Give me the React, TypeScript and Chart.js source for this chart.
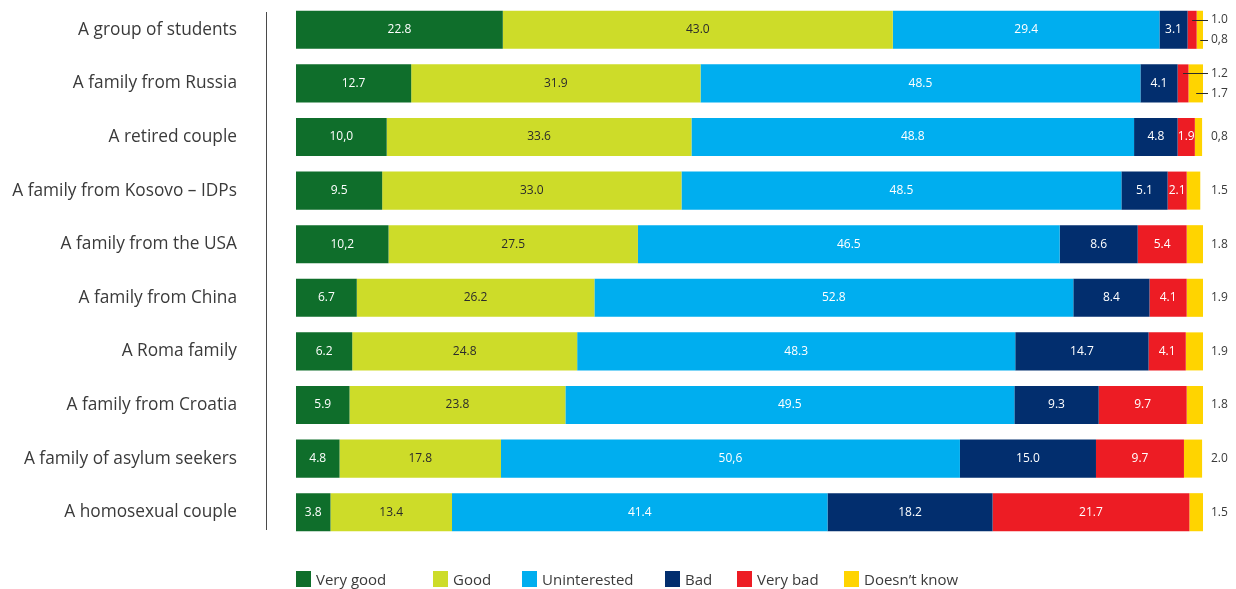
import React, { useEffect, useRef } from "react";
import { Chart, registerables } from "chart.js";

Chart.register(...registerables);

const categories = [
  "A group of students",
  "A family from Russia",
  "A retired couple",
  "A family from Kosovo – IDPs",
  "A family from the USA",
  "A family from China",
  "A Roma family",
  "A family from Croatia",
  "A family of asylum seekers",
  "A homosexual couple",
];

// values as printed in the reference (some use a decimal comma)
const veryGood = ["22.8", "12.7", "10,0", "9.5", "10,2", "6.7", "6.2", "5.9", "4.8", "3.8"];
const good = ["43.0", "31.9", "33.6", "33.0", "27.5", "26.2", "24.8", "23.8", "17.8", "13.4"];
const uninterested = ["29.4", "48.5", "48.8", "48.5", "46.5", "52.8", "48.3", "49.5", "50,6", "41.4"];
const bad = ["3.1", "4.1", "4.8", "5.1", "8.6", "8.4", "14.7", "9.3", "15.0", "18.2"];
const veryBad = ["1.0", "1.2", "1.9", "2.1", "5.4", "4.1", "4.1", "9.7", "9.7", "21.7"];
const doesntKnow = ["0,8", "1.7", "0,8", "1.5", "1.8", "1.9", "1.9", "1.8", "2.0", "1.5"];

const seriesNames = ["Very good", "Good", "Uninterested", "Bad", "Very bad", "Doesn’t know"];
const seriesTexts = [veryGood, good, uninterested, bad, veryBad, doesntKnow];
const seriesColors = ["#0f6e2b", "#cddc29", "#00aeef", "#022e6e", "#ed1c24", "#ffd400"];
const labelColors = ["#ffffff", "#2b2b2b", "#ffffff", "#ffffff", "#ffffff", "#2b2b2b"];

const toNum = (s: string) => parseFloat(s.replace(",", "."));

const FONT = "'Open Sans', 'DejaVu Sans', sans-serif";
const TEXT = "#3a3a3a";

const legendLefts = [296, 433, 522, 665, 737, 844];

const segLabels = {
  id: "segLabels",
  afterDatasetsDraw(chart: any) {
    const ctx = chart.ctx;
    const area = chart.chartArea;
    ctx.save();
    ctx.font = `12px ${FONT}`;
    ctx.textBaseline = "middle";
    const outX = area.right + 7;
    const redMeta = chart.getDatasetMeta(4);
    chart.data.datasets.forEach((ds: any, di: number) => {
      const meta = chart.getDatasetMeta(di);
      meta.data.forEach((bar: any, i: number) => {
        const { x, y, base } = bar.getProps(["x", "y", "base"], true);
        const text = ds.texts[i];
        const mid = (x + base) / 2;
        const redBar = redMeta.data[i].getProps(["x", "base"], true);
        const callout = Math.abs(redBar.x - redBar.base) < 14;
        if (di === 5 || (di === 4 && callout)) {
          let ty = y;
          if (callout) {
            ty = di === 4 ? y - 10 : y + 10;
            ctx.strokeStyle = "#2b2b2b";
            ctx.lineWidth = 1;
            ctx.beginPath();
            ctx.moveTo(mid, Math.round(ty) + 0.5);
            ctx.lineTo(outX - 2, Math.round(ty) + 0.5);
            ctx.stroke();
          }
          ctx.fillStyle = TEXT;
          ctx.textAlign = "left";
          ctx.fillText(text, outX + 1, ty);
        } else {
          ctx.fillStyle = labelColors[di];
          ctx.textAlign = "center";
          ctx.fillText(text, mid, y);
        }
      });
    });
    ctx.restore();
  },
};

const axisLine = {
  id: "axisLine",
  afterDraw(chart: any) {
    const { ctx, chartArea } = chart;
    ctx.save();
    ctx.strokeStyle = "#4a4a4a";
    ctx.lineWidth = 1;
    ctx.beginPath();
    const x = Math.round(chartArea.left - 30) + 0.5;
    ctx.moveTo(x, chartArea.top + 9);
    ctx.lineTo(x, chartArea.bottom - 9);
    ctx.stroke();
    ctx.restore();
  },
};

export default function App() {
  const ref = useRef<HTMLCanvasElement>(null);

  useEffect(() => {
    if (!ref.current) return;
    const chart = new Chart(ref.current, {
      type: "bar",
      data: {
        labels: categories,
        datasets: seriesNames.map((name, i) => ({
          label: name,
          data: seriesTexts[i].map(toNum),
          texts: seriesTexts[i],
          backgroundColor: seriesColors[i],
          borderWidth: 0,
          categoryPercentage: 1,
          barPercentage: 0.71,
        })) as any,
      },
      options: {
        indexAxis: "y",
        responsive: false,
        animation: false,
        layout: { padding: { top: 3, right: 33, bottom: 50, left: 0 } },
        plugins: {
          legend: { display: false },
          tooltip: { enabled: false },
        },
        scales: {
          x: {
            stacked: true,
            min: 0,
            max: 100,
            display: false,
          },
          y: {
            stacked: true,
            grid: { display: false, drawTicks: false },
            border: { display: false },
            ticks: {
              padding: 59,
              color: TEXT,
              font: { family: FONT, size: 17.3 },
            },
            afterFit: (s: any) => {
              s.width = 296;
              s.paddingTop = 0;
              s.paddingBottom = 0;
            },
          },
        },
      },
      plugins: [segLabels, axisLine],
    });
    return () => chart.destroy();
  }, []);

  return (
    <div style={{ position: "absolute", left: 0, top: 0, width: 1236, height: 589, background: "#fff" }}>
      <canvas ref={ref} width={1236} height={589} style={{ display: "block" }} />
      {seriesNames.map((name, i) => (
        <div
          key={name}
          style={{
            position: "absolute",
            left: legendLefts[i],
            top: 571,
            height: 16,
            display: "flex",
            alignItems: "center",
            fontFamily: FONT,
            fontSize: 15,
            color: TEXT,
            whiteSpace: "nowrap",
          }}
        >
          <span style={{ display: "inline-block", width: 15, height: 16, background: seriesColors[i], marginRight: 5 }} />
          <span>{name}</span>
        </div>
      ))}
    </div>
  );
}
